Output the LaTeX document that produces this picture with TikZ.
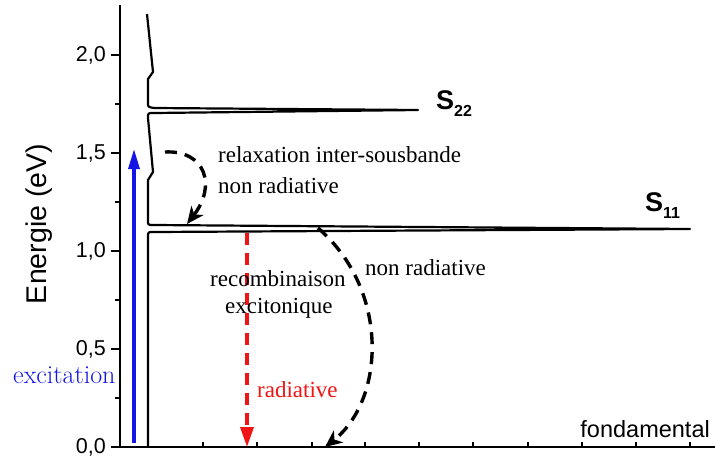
\documentclass[tikz,border=0pt]{standalone}
\usepackage{fontspec}
\setmainfont{Liberation Serif}
\setsansfont{Liberation Sans}
\newfontfamily\lmfont{Latin Modern Roman}
\usepackage{xcolor}
\definecolor{excblue}{RGB}{20, 20, 230}
\definecolor{radred}{RGB}{240, 20, 20}
\usepackage{tikz}
\usetikzlibrary{arrows.meta, positioning}

\tikzset{
  axisline/.style={line width=2.4pt, black},
  dosline/.style={line width=2.2pt, black, line join=round},
  dashedarrow/.style={line width=3.4pt, dash pattern=on 12pt off 8pt},
  ticklabel/.style={font=\fontsize{21.5}{21.5}\sffamily, anchor=east, inner sep=0pt},
  notetext/.style={font=\fontsize{23}{26}\selectfont, anchor=base west, inner sep=0pt},
  bandlabel/.style={anchor=base west, inner sep=0pt}
}

\newcommand{\bandname}[1]{{\fontsize{27}{27}\bfseries\sffamily S}\raisebox{-7pt}{\fontsize{16}{16}\bfseries\sffamily #1}}

\begin{document}
\begin{tikzpicture}[x=1pt, y=-1pt]
  \useasboundingbox (0,0) rectangle (715,461);

  % ---------- axes ----------
  \draw[axisline] (120,5) -- (120,447);
  \draw[axisline] (119,447) -- (715,447);

  % energy ticks (major and minor)
  \foreach \y/\v in {447/{0,0}, 349/{0,5}, 251/{1,0}, 153/{1,5}, 55/{2,0}} {
    \draw[axisline] (111,\y) -- (120,\y);
    \node[ticklabel] at (106,\y) {\v};
  }
  \foreach \y in {398, 300, 202, 104} {
    \draw[axisline] (115,\y) -- (120,\y);
  }
  % bottom ticks
  \foreach \x in {203, 257, 312, 365, 419, 473, 528, 582, 636, 690} {
    \draw[line width=1.8pt] (\x,447) -- (\x,442);
  }

  \node[font=\fontsize{28.5}{28.5}\sffamily, rotate=90] (ylab) at (39,224) {Energie (eV)};

  % ---------- density of states ----------
  \draw[dosline] (147,14) -- (153,72) -- (148,79) -- (148,103)
    .. controls (148,107) .. (154,108) -- (418,110) -- (154,113)
    .. controls (148,113) .. (148,118) -- (153,172) -- (148,180) -- (148,221)
    .. controls (148,225) .. (154,225) -- (690,229) -- (154,232)
    .. controls (148,232) .. (148,237) -- (148,447);

  \node[bandlabel] (s22) at (436,109) {\bandname{22}};
  \node[bandlabel] (s11) at (645,211) {\bandname{11}};
  \node[font=\fontsize{23.5}{23.5}\sffamily, anchor=base east, inner sep=0pt] (fond) at (710,437) {fondamental};

  % ---------- transitions ----------
  % excitation
  \coordinate (excA) at (134,443);
  \coordinate (excB) at (134,149);
  \draw[line width=3.2pt, excblue, -{Triangle[length=20pt, width=11pt]}] (excA) -- (excB);
  \node[font=\fontsize{26}{26}\lmfont, text=excblue, anchor=base west, inner sep=0pt] (exc) at (13,383) {excitation};

  % relaxation S22 -> S11
  \coordinate (relA) at (165,152);
  \coordinate (relB) at (187,224);
  \draw[dashedarrow, -{Stealth[length=17pt, width=15pt, inset=5pt]}] (relA)
    .. controls (205,150) and (217,185) .. (relB);
  \node[notetext] (rel1) at (218,162) {relaxation inter-sousbande};
  \node[notetext] (rel2) at (218,193) {non radiative};

  % radiative recombination
  \coordinate (radA) at (247,233);
  \coordinate (radB) at (247,447);
  \draw[dashedarrow, radred, -{Triangle[length=20pt, width=13pt]}] (radA) -- (radB);
  \node[notetext] (rec1) at (210,286) {recombinaison};
  \node[notetext] (rec2) at (225,313) {excitonique};
  \node[notetext, text=radred] (rad) at (257,397) {radiative};

  % non radiative recombination
  \coordinate (nrA) at (318,228);
  \coordinate (nrB) at (325,447);
  \draw[dashedarrow, -{Stealth[length=17pt, width=15pt, inset=5pt]}] (nrA)
    .. controls (390,290) and (385,400) .. (nrB);
  \node[notetext] (nonrad) at (365,275) {non radiative};

\end{tikzpicture}
\end{document}
